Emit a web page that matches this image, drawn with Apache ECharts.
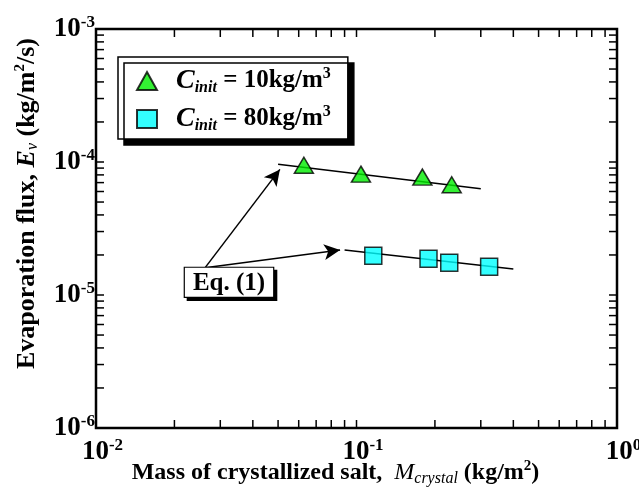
<!DOCTYPE html>
<html>
<head>
<meta charset="utf-8">
<script src="https://cdn.jsdelivr.net/npm/echarts@6/dist/echarts.min.js"></script>
<style>
  html, body { margin: 0; padding: 0; background: #fff; }
  #main { width: 639px; height: 491px; }
</style>
</head>
<body>
<div id="main"></div>
<script>
// measured points (Mass of crystallized salt vs evaporation flux)
var massC10 = [0.0628, 0.104, 0.179, 0.232];
var fluxC10 = [9.45e-5, 8.1e-5, 7.7e-5, 6.75e-5];
var massC80 = [0.116, 0.189, 0.227, 0.323];
var fluxC80 = [1.97e-5, 1.87e-5, 1.75e-5, 1.63e-5];

// Eq. (1) fitted lines (end points)
var fitMassC10 = [0.050, 0.30];
var fitFluxC10 = [9.6e-5, 6.3e-5];
var fitMassC80 = [0.09, 0.40];
var fitFluxC80 = [2.18e-5, 1.57e-5];

// annotation "Eq. (1)" and arrow tips
var eqLabelAt = [0.0324, 1.6e-5];
var arrowFrom = [0.0262, 1.6e-5];
var arrowTo = [[0.0508, 8.8e-5], [0.0865, 2.18e-5]];

// axis ranges and tick positions
var xRange = [0.01, 1];
var yRange = [1e-6, 1e-3];
var xTickVals = [];
var yTickVals = [];
[0.01, 0.1].forEach(function (d) {
  for (var k = 1; k <= 9; k++) xTickVals.push(d * k);
});
xTickVals.push(1);
[1e-6, 1e-5, 1e-4].forEach(function (d) {
  for (var k = 1; k <= 9; k++) yTickVals.push(d * k);
});
yTickVals.push(1e-3);

function pairs(xs, ys) {
  return xs.map(function (x, i) { return [x, ys[i]]; });
}

var serif = 'Liberation Serif';
var TICK = 8;

function expLabel(value) {
  var e = Math.round(Math.log(value) / Math.LN10);
  return '{b|10}{s|' + e + '}';
}
var expRich = {
  b: { fontFamily: serif, fontWeight: 'bold', fontSize: 27, color: '#000', lineHeight: 30 },
  s: { fontFamily: serif, fontWeight: 'bold', fontSize: 17, color: '#000', verticalAlign: 'top', lineHeight: 16 }
};
function titleRich(fs) {
  return {
    b: { fontFamily: serif, fontWeight: 'bold', fontSize: fs, color: '#000', lineHeight: 28 },
    i: { fontFamily: serif, fontStyle: 'italic', fontSize: fs, color: '#000', lineHeight: 28 },
    ib: { fontFamily: serif, fontStyle: 'italic', fontWeight: 'bold', fontSize: fs, color: '#000', lineHeight: 28 },
    is: { fontFamily: serif, fontStyle: 'italic', fontSize: 16, color: '#000', verticalAlign: 'bottom', lineHeight: 19 },
    sp: { fontFamily: serif, fontWeight: 'bold', fontSize: 15, color: '#000', verticalAlign: 'top', lineHeight: 21 }
  };
}

var chart = echarts.init(document.getElementById('main'), null, { renderer: 'canvas' });

var option = {
  animation: false,
  grid: {
    left: 96, right: 22, top: 29, bottom: 63,
    outerBoundsMode: 'none',
    containLabel: false,
    show: true, borderColor: '#000', borderWidth: 2.5, backgroundColor: 'transparent'
  },
  legend: {
    left: 118, top: 57,
    orient: 'vertical',
    backgroundColor: '#fff',
    borderColor: '#000',
    borderWidth: 1.5,
    shadowColor: '#000',
    shadowBlur: 0,
    shadowOffsetX: 6,
    shadowOffsetY: 6,
    padding: [9, 17, 5, 18],
    itemWidth: 20,
    itemHeight: 18,
    itemGap: 8,
    data: [
      { name: 'C10', icon: 'triangle' },
      { name: 'C80', icon: 'rect' }
    ],
    formatter: function (name) {
      var v = name === 'C10' ? '10' : '80';
      return '{c|C}{sub|init}{t| = ' + v + 'kg/m}{sup|3}';
    },
    textStyle: {
      padding: [0, 0, 0, 14],
      rich: {
        c: { fontFamily: serif, fontStyle: 'italic', fontWeight: 'bold', fontSize: 28, color: '#000', lineHeight: 30 },
        sub: { fontFamily: serif, fontStyle: 'italic', fontWeight: 'bold', fontSize: 16, color: '#000', verticalAlign: 'bottom', lineHeight: 15 },
        t: { fontFamily: serif, fontWeight: 'bold', fontSize: 25, color: '#000', lineHeight: 30 },
        sup: { fontFamily: serif, fontWeight: 'bold', fontSize: 16, color: '#000', verticalAlign: 'top', lineHeight: 22 }
      }
    }
  },
  xAxis: {
    type: 'log',
    logBase: 10,
    min: xRange[0],
    max: xRange[1],
    axisLine: { show: false },
    axisTick: { show: false },
    splitLine: { show: false },
    axisLabel: {
      margin: 9,
      formatter: expLabel,
      padding: [0, 0, 0, 13],
      rich: expRich
    },
    name: '{b|Mass of crystallized salt,  }{i|M}{is|crystal}{b| (kg/m}{sp|2}{b|)}',
    nameLocation: 'middle',
    nameGap: 31,
    nameMoveOverlap: false,
    nameTextStyle: {
      padding: [0, 42, 0, 0],
      rich: titleRich(24)
    }
  },
  yAxis: {
    type: 'log',
    logBase: 10,
    min: yRange[0],
    max: yRange[1],
    axisLine: { show: false },
    axisTick: { show: false },
    splitLine: { show: false },
    axisLabel: {
      margin: 1,
      formatter: expLabel,
      rich: expRich
    },
    name: '{b|Evaporation flux, }{ib|E}{is|v}{b| (kg/m}{sp|2}{b|/s)}',
    nameLocation: 'middle',
    nameGap: 55,
    nameMoveOverlap: false,
    nameTextStyle: {
      padding: [0, 0, 0, 50],
      rich: titleRich(26)
    }
  },
  series: [
    {
      // ticks on bottom and top
      type: 'custom',
      silent: true,
      z: 1,
      data: xTickVals.map(function (v) { return [v, yRange[0]]; }),
      renderItem: function (params, api) {
        var v = api.value(0);
        var b = api.coord([v, yRange[0]]);
        var t = api.coord([v, yRange[1]]);
        var st = { stroke: '#000', lineWidth: 1.5 };
        return {
          type: 'group',
          children: [
            { type: 'line', shape: { x1: b[0], y1: b[1], x2: b[0], y2: b[1] - TICK }, style: st },
            { type: 'line', shape: { x1: t[0], y1: t[1], x2: t[0], y2: t[1] + TICK }, style: st }
          ]
        };
      }
    },
    {
      // ticks on left and right
      type: 'custom',
      silent: true,
      z: 1,
      data: yTickVals.map(function (v) { return [xRange[0], v]; }),
      renderItem: function (params, api) {
        var v = api.value(1);
        var l = api.coord([xRange[0], v]);
        var r = api.coord([xRange[1], v]);
        var st = { stroke: '#000', lineWidth: 1.5 };
        return {
          type: 'group',
          children: [
            { type: 'line', shape: { x1: l[0], y1: l[1], x2: l[0] + TICK, y2: l[1] }, style: st },
            { type: 'line', shape: { x1: r[0], y1: r[1], x2: r[0] - TICK, y2: r[1] }, style: st }
          ]
        };
      }
    },
    {
      name: 'fit10',
      type: 'line',
      data: pairs(fitMassC10, fitFluxC10),
      symbol: 'none',
      lineStyle: { color: '#000', width: 1.5 },
      z: 2,
      markLine: {
        silent: true,
        symbol: ['none', 'arrow'],
        symbolSize: [12, 16],
        lineStyle: { color: '#000', width: 1.5, type: 'solid' },
        label: { show: false },
        data: arrowTo.map(function (p) {
          return [{ coord: arrowFrom }, { coord: p }];
        })
      }
    },
    {
      name: 'fit80',
      type: 'line',
      data: pairs(fitMassC80, fitFluxC80),
      symbol: 'none',
      lineStyle: { color: '#000', width: 1.5 },
      z: 2,
      markPoint: {
        silent: true,
        symbol: 'rect',
        symbolSize: 0,
        data: [{ coord: eqLabelAt }],
        label: {
          show: true,
          position: 'bottom',
          distance: 0,
          formatter: 'Eq. (1)',
          fontFamily: serif,
          fontWeight: 'bold',
          fontSize: 25,
          color: '#000',
          backgroundColor: '#fff',
          borderColor: '#000',
          borderWidth: 1.2,
          padding: [3, 8, 1, 8],
          shadowColor: '#000',
          shadowBlur: 0,
          shadowOffsetX: 3,
          shadowOffsetY: 3
        }
      }
    },
    {
      name: 'C10',
      type: 'scatter',
      data: pairs(massC10, fluxC10),
      symbol: 'triangle',
      symbolSize: [19, 16],
      itemStyle: { color: '#00ee00', borderColor: '#000', borderWidth: 1.5 },
      z: 5
    },
    {
      name: 'C80',
      type: 'scatter',
      data: pairs(massC80, fluxC80),
      symbol: 'rect',
      symbolSize: 17,
      itemStyle: { color: '#00ffff', borderColor: '#000', borderWidth: 1.5 },
      z: 5
    }
  ]
};

chart.setOption(option);
</script>
</body>
</html>
